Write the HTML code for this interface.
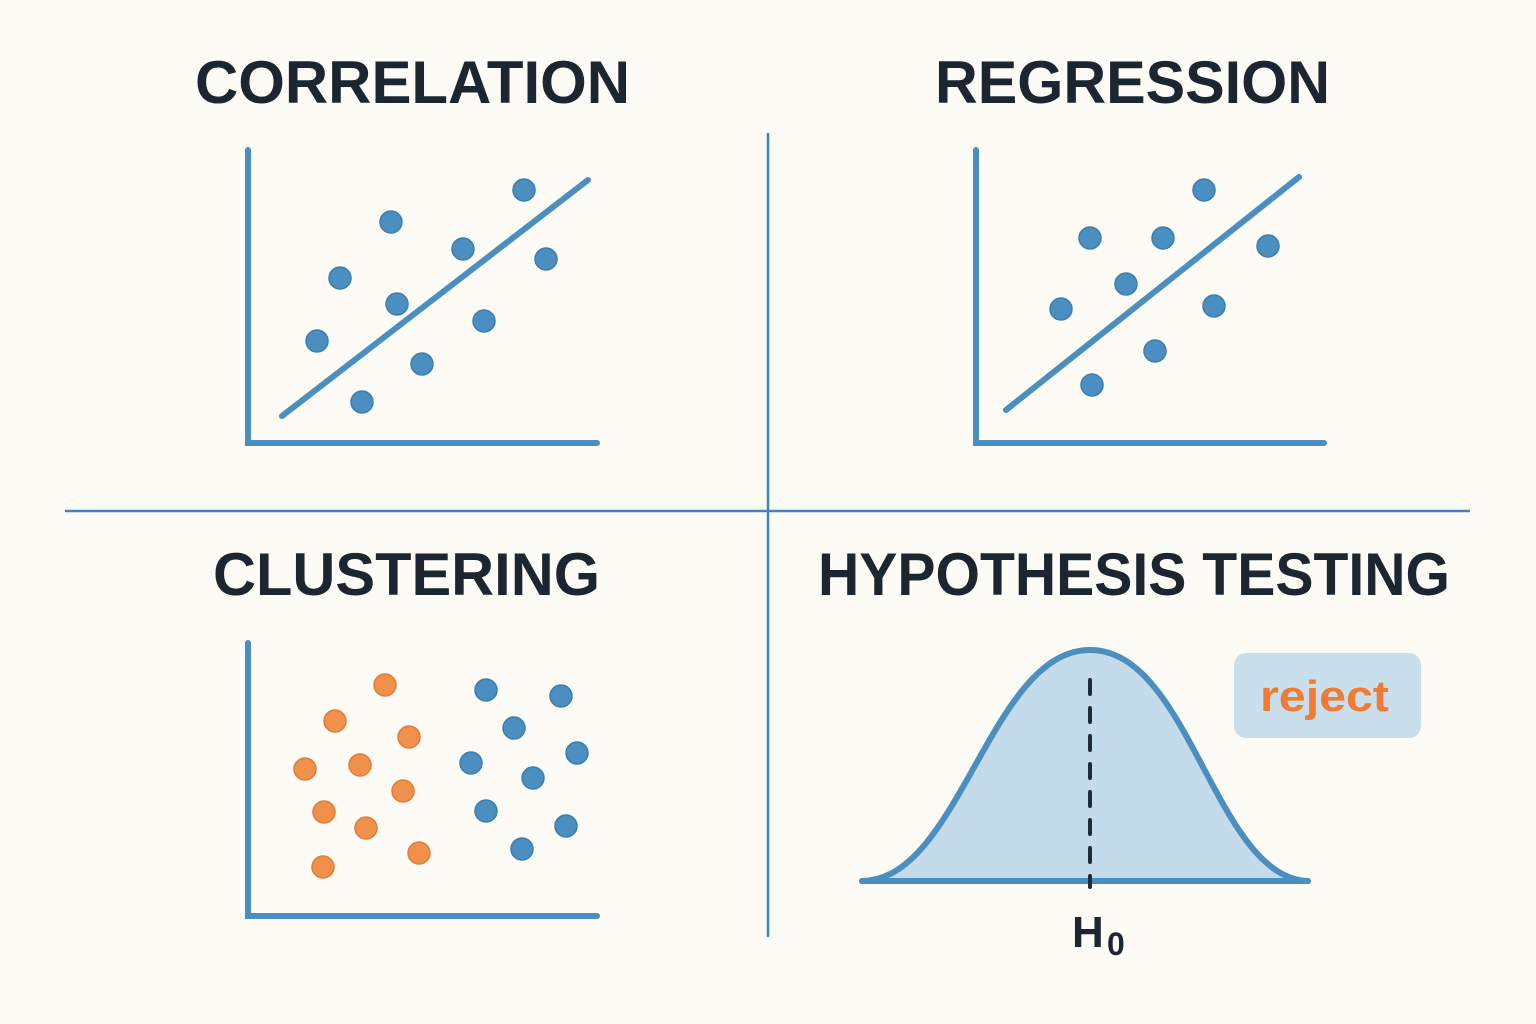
<!DOCTYPE html>
<html><head><meta charset="utf-8"><style>
html,body{margin:0;padding:0;background:#fdfbf6;}
svg{display:block}
text{font-family:"Liberation Sans",sans-serif;font-weight:bold;fill:#1b2631}
</style></head><body>
<svg width="1536" height="1024" viewBox="0 0 1536 1024">
<rect width="1536" height="1024" fill="#fdfbf6"/>
<g stroke="#3d86c0" stroke-width="2.5">
<line x1="768" y1="133" x2="768" y2="937"/>
<line x1="65" y1="511" x2="1470" y2="511"/>
</g>
<g font-size="60" lengthAdjust="spacingAndGlyphs">
<text x="195" y="103" textLength="435" lengthAdjust="spacingAndGlyphs">CORRELATION</text>
<text x="935" y="103" textLength="395" lengthAdjust="spacingAndGlyphs">REGRESSION</text>
<text x="213" y="595" textLength="387" lengthAdjust="spacingAndGlyphs">CLUSTERING</text>
<text x="818" y="595" textLength="632" lengthAdjust="spacingAndGlyphs">HYPOTHESIS TESTING</text>
</g>
<g stroke="#4a8fc0" stroke-width="6" stroke-linecap="round" fill="none">
<polyline points="248,150 248,443 597,443"/>
<line x1="282" y1="416" x2="588" y2="180"/>
<polyline points="976,150 976,443 1324,443"/>
<line x1="1006" y1="410" x2="1299" y2="177"/>
<polyline points="248,643 248,916 597,916"/>
</g>
<g fill="#4a8fc0" stroke="#3b7fb0" stroke-width="1.5">
<circle cx="524" cy="190" r="11"/><circle cx="391" cy="222" r="11"/><circle cx="463" cy="249" r="11"/>
<circle cx="546" cy="259" r="11"/><circle cx="340" cy="278" r="11"/><circle cx="397" cy="304" r="11"/>
<circle cx="484" cy="321" r="11"/><circle cx="317" cy="341" r="11"/><circle cx="422" cy="364" r="11"/>
<circle cx="362" cy="402" r="11"/>
<circle cx="1204" cy="190" r="11"/><circle cx="1090" cy="238" r="11"/><circle cx="1163" cy="238" r="11"/>
<circle cx="1268" cy="246" r="11"/><circle cx="1126" cy="284" r="11"/><circle cx="1061" cy="309" r="11"/>
<circle cx="1214" cy="306" r="11"/><circle cx="1155" cy="351" r="11"/><circle cx="1092" cy="385" r="11"/>
<circle cx="486" cy="690" r="11"/><circle cx="561" cy="696" r="11"/><circle cx="514" cy="728" r="11"/>
<circle cx="577" cy="753" r="11"/><circle cx="471" cy="763" r="11"/><circle cx="533" cy="778" r="11"/>
<circle cx="486" cy="811" r="11"/><circle cx="566" cy="826" r="11"/><circle cx="522" cy="849" r="11"/>
</g>
<g fill="#f0904a" stroke="#e07d38" stroke-width="1.5">
<circle cx="385" cy="685" r="11"/><circle cx="335" cy="721" r="11"/><circle cx="409" cy="737" r="11"/>
<circle cx="305" cy="769" r="11"/><circle cx="360" cy="765" r="11"/><circle cx="403" cy="791" r="11"/>
<circle cx="324" cy="812" r="11"/><circle cx="366" cy="828" r="11"/><circle cx="419" cy="853" r="11"/>
<circle cx="323" cy="867" r="11"/>
</g>
<path d="M862,881 C960,880 990,650 1090,650 C1190,650 1215,878 1308,881 Z" fill="#c3dbea"/>
<path d="M862,881 C960,880 990,650 1090,650 C1190,650 1215,878 1308,881" fill="none" stroke="#4a8fc0" stroke-width="6" stroke-linecap="round"/>
<line x1="862" y1="881" x2="1308" y2="881" stroke="#4a8fc0" stroke-width="6" stroke-linecap="round"/>
<line x1="1090" y1="680" x2="1090" y2="887" stroke="#1f2d3a" stroke-width="4" stroke-dasharray="14,14" stroke-linecap="round"/>
<text x="1072" y="947" font-size="44">H</text><text x="1107" y="955" font-size="32">0</text>
<rect x="1234" y="653" width="187" height="85" rx="12" fill="#c9dfec"/>
<text x="1260" y="711" font-size="44" textLength="129" lengthAdjust="spacingAndGlyphs" style="fill:#f27a33">reject</text>
</svg>
</body></html>
